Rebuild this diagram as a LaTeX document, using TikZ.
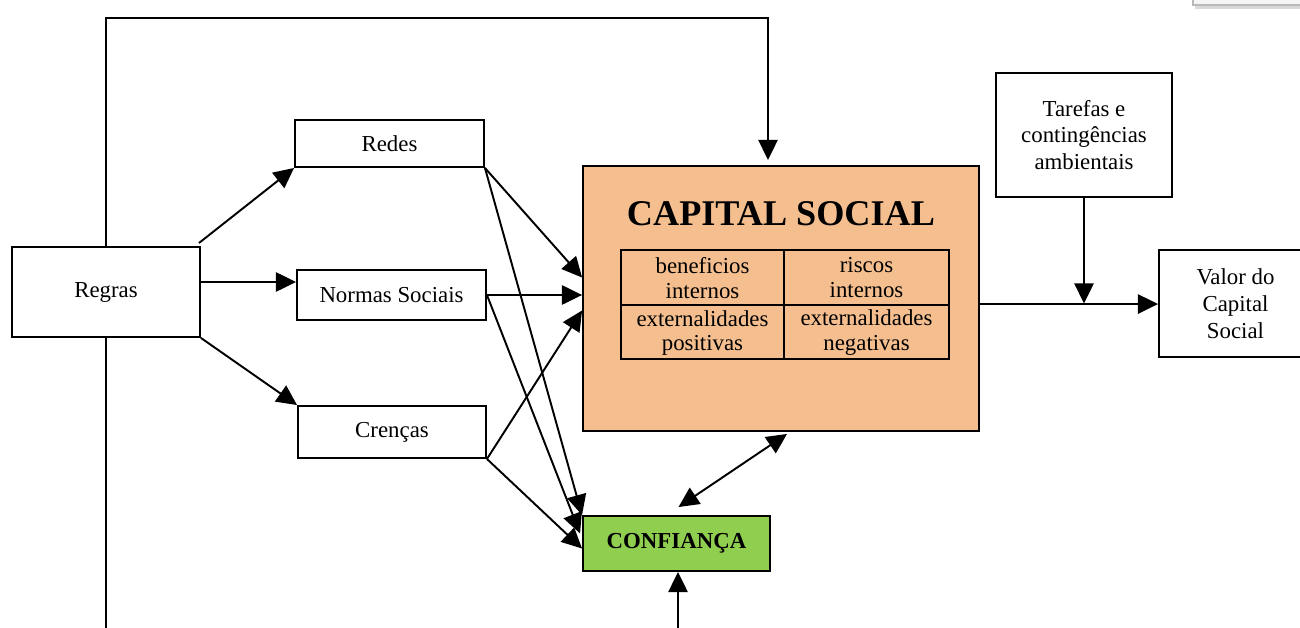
\documentclass[tikz,border=0pt]{standalone}
\usepackage{fontspec}
\setmainfont{Liberation Serif}
\usetikzlibrary{arrows.meta,calc}
\definecolor{capfill}{HTML}{F5BE8F}
\definecolor{conffill}{HTML}{8FCE4F}
\begin{document}
\begin{tikzpicture}[x=0.02cm,y=-0.02cm,
  box/.style={draw=black,line width=1.1pt,fill=white,inner sep=2pt,align=center,
    font=\fontsize{13}{15.2}\selectfont},
  arr/.style={line width=1.1pt,-{Triangle[length=11.5pt,width=11pt]}},
  darr/.style={line width=1.1pt,{Triangle[length=11.5pt,width=11pt]}-{Triangle[length=11.5pt,width=11pt]}},
  ln/.style={line width=1.1pt},
  cell/.style={align=center,font=\fontsize{13}{14.2}\selectfont,inner sep=0pt}]
\useasboundingbox (0,0) rectangle (1300,628);
% top-right artifact
\fill[gray!30] (1195,4) rectangle (1310,9);
\fill[gray!8] (1193,-5) rectangle (1310,5);
\draw[gray!55,line width=0.6pt] (1193,-5) -- (1193,5) -- (1310,5);

\node[box,minimum width=3.76cm,minimum height=1.8cm] (regras) at (106,292) {Regras};
\node[box,minimum width=3.78cm,minimum height=0.94cm] (redes) at (389.5,143.5) {Redes};
\node[box,minimum width=3.78cm,minimum height=1.0cm] (normas) at (391.5,295) {Normas Sociais};
\node[box,minimum width=3.76cm,minimum height=1.04cm] (crencas) at (392,432) {Crenças};
\node[box,fill=capfill,minimum width=7.92cm,minimum height=5.3cm] (capital) at (781,298.5) {};
\node[box,fill=conffill,minimum width=3.74cm,minimum height=1.1cm,font=\bfseries\fontsize{13}{15}\selectfont] (confianca) at (676.5,543.5) {CONFIANÇA};
\node[box,minimum width=3.52cm,minimum height=2.48cm] (tarefas) at (1084,135) {Tarefas e\\contingências\\ambientais};
\node[box,minimum width=3.06cm,minimum height=2.14cm] (valor) at (1235.5,303.5) {Valor do\\Capital\\Social};

% capital content
\node[font=\bfseries\fontsize{20.6}{24}\selectfont,inner sep=0pt] (title) at (781,214) {CAPITAL SOCIAL};
\draw[line width=0.6pt] (621,250) rectangle (949,359);
\draw[line width=0.6pt] (784,250) -- (784,359);
\draw[line width=0.6pt] (621,305) -- (949,305);
\node[cell] (c11) at (702.5,278) {beneficios\\internos};
\node[cell] (c12) at (866.5,278) {riscos\\internos};
\node[cell] (c21) at (702.5,333) {externalidades\\positivas};
\node[cell] (c22) at (866.5,333) {externalidades\\negativas};

% coordinates
\coordinate (topr) at (768,18);
\coordinate (captop) at (768,160);
\coordinate (bot1) at (106,640);
\coordinate (bot2) at (678,640);
\coordinate (rg2) at ($(regras.east)+(0,-10)$);
\coordinate (rg1) at ($(regras.north east)+(-2,-3)$);

% connectors
\draw[arr] (regras.north) |- (topr) -- (captop);
\draw[ln] (regras.south) -- (bot1);
\draw[arr] (rg1) -- (redes.south west);
\draw[arr] (rg2) -- (normas.west |- rg2);
\draw[arr] (regras.south east) -- (crencas.north west);

\draw[arr] (redes.south east) -- ($(capital.west)+(0,-21)$);
\draw[arr] (redes.south east) -- (confianca.north west);
\draw[arr] (normas.east) -- (capital.west |- normas.east);
\draw[arr] (normas.east) -- ($(confianca.west)+(-2,-10)$);
\draw[arr] (crencas.south east) -- ($(capital.west)+(0,12)$);
\draw[arr] (crencas.south east) -- ($(confianca.west)+(0,5)$);

\draw[darr] ($(capital.south)+(6,2)$) -- ($(confianca.north)+(2,-8)$);
\draw[arr] (bot2) -- (confianca.south -| bot2);
\draw[arr] ([yshift=-0.3pt]capital.east |- valor.west) -- ([yshift=-0.3pt]valor.west);
\draw[arr] (tarefas.south) -- (tarefas.south |- valor.west);
\end{tikzpicture}
\end{document}
